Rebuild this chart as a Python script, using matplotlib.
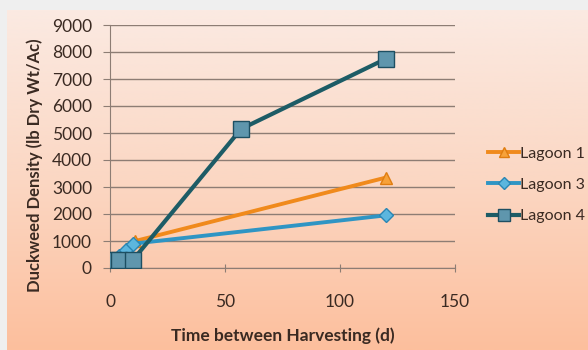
import numpy as np
import matplotlib
matplotlib.use("Agg")
import matplotlib.pyplot as plt
from matplotlib.colors import LinearSegmentedColormap

plt.rcParams['font.family'] = ['Lato', 'DejaVu Sans']

# Harvest interval (days) and duckweed density (lb dry wt / acre)
days_l1 = [1, 4, 7, 11, 120]
dens_l1 = [300, 450, 700, 1000, 3350]
days_l3 = [1, 4, 7, 10, 120]
dens_l3 = [250, 450, 650, 900, 1950]
days_l4 = [1, 4, 10, 57, 120]
dens_l4 = [300, 300, 300, 5150, 7750]

series_names = ["Lagoon 1", "Lagoon 3", "Lagoon 4"]
x_ticks = [0, 50, 100, 150]
y_ticks = list(range(0, 9001, 1000))

W, H = 588, 350
fig = plt.figure(figsize=(W / 100, H / 100), dpi=100)
fig.patch.set_facecolor("#efefef")

# Gradient panel behind the chart
bg = fig.add_axes([7 / W, 0, 1 - 7 / W, 1 - 10 / H])
bg.set_axis_off()
cmap = LinearSegmentedColormap.from_list("bg", ["#fdbf9d", "#fbd7c3", "#fbeae2"])
grad = np.linspace(0, 1, 256).reshape(-1, 1)
bg.imshow(grad, aspect="auto", cmap=cmap, origin="lower", extent=[0, 1, 0, 1])
bg.set_zorder(0)

ax = fig.add_axes([110 / W, 1 - 268 / H, (455 - 110) / W, (268 - 25) / H])
ax.set_zorder(1)
ax.patch.set_alpha(0)

text_col = "#3a2a22"
grid_col = "#8d7d74"

ax.plot(days_l1, dens_l1, color="#f08a1c", lw=2.8, marker="^", ms=9,
        mfc="#f7a23a", mec="#e07d10", label=series_names[0], zorder=3)
ax.plot(days_l3, dens_l3, color="#2f95c4", lw=2.8, marker="D", ms=7.5,
        mfc="#5cb6de", mec="#2a86b4", label=series_names[1], zorder=4)
ax.plot(days_l4, dens_l4, color="#1d5c66", lw=3, marker="s", ms=11,
        mfc="#5f96ad", mec="#1d4f62", label=series_names[2], zorder=5)

ax.set_xlim(0, 150)
ax.set_ylim(0, 9000)
ax.set_xticks(x_ticks)
ax.set_yticks(y_ticks)
ax.yaxis.grid(True, color=grid_col, lw=1)
ax.set_axisbelow(True)
for s in ["top", "right"]:
    ax.spines[s].set_visible(False)
for s in ["left", "bottom"]:
    ax.spines[s].set_color(grid_col)
ax.tick_params(axis="y", length=5, color=grid_col, labelsize=12.5,
               labelcolor=text_col, pad=8)
ax.tick_params(axis="x", direction="inout", length=6, color=grid_col,
               labelsize=12.5, labelcolor=text_col, pad=16)

ax.set_ylabel("Duckweed Density (lb Dry Wt/Ac)", fontsize=12,
              fontweight="bold", color=text_col, va="center")
ax.yaxis.set_label_coords(-0.217, 0.424)
ax.set_xlabel("Time between Harvesting (d)", fontsize=12.5,
              fontweight="bold", color=text_col, labelpad=12)

fig.legend(loc="upper left", bbox_to_anchor=(482 / W, 1 - 140 / H),
           frameon=False, fontsize=11.5, labelcolor=text_col,
           handlelength=1.9, handletextpad=0.1, labelspacing=1.07,
           markerscale=0.8, borderaxespad=0)

fig.savefig("out.png", dpi=100)
